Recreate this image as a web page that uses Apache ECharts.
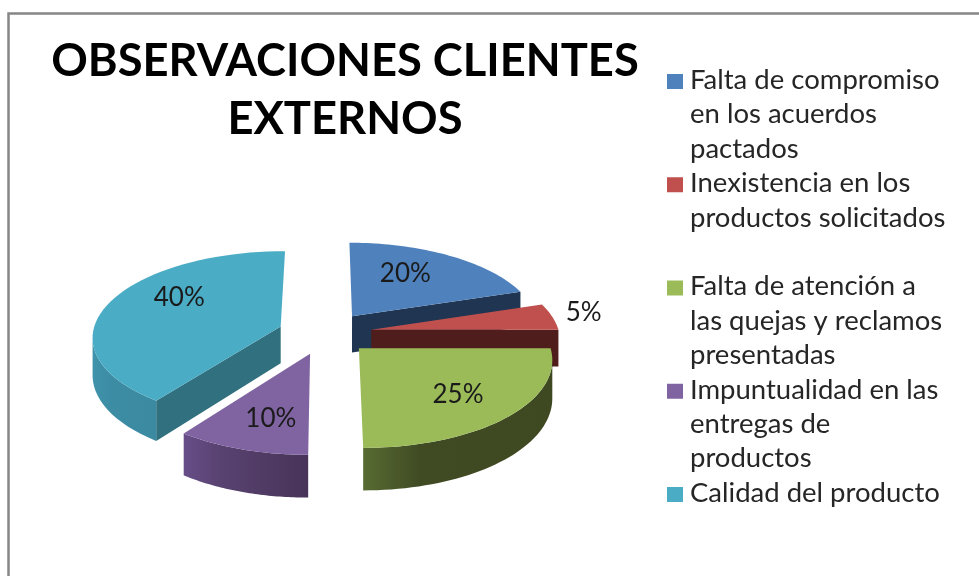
<!DOCTYPE html>
<html>
<head>
<meta charset="utf-8">
<style>html,body{margin:0;padding:0;background:#fff;overflow:hidden}#c{width:979px;height:576px}</style>
<script src="https://cdn.jsdelivr.net/npm/echarts@6/dist/echarts.min.js"></script>
</head>
<body>
<div id="c"></div>
<script>
const chartTitle = 'OBSERVACIONES CLIENTES\nEXTERNOS';
const categories = [
  'Falta de compromiso en los acuerdos pactados',
  'Inexistencia en los productos solicitados',
  'Falta de atención a las quejas y reclamos presentadas',
  'Impuntualidad en las entregas de productos',
  'Calidad del producto'
];
const legendLines = [
  'Falta de compromiso\nen los acuerdos\npactados',
  'Inexistencia en los\nproductos solicitados\n ',
  'Falta de atención a\nlas quejas y reclamos\npresentadas',
  'Impuntualidad en las\nentregas de\nproductos',
  'Calidad del producto\n \n '
];
const values = [20, 5, 25, 10, 40];

// styles and layout (not data)
const topColors = ['#4F81BD', '#C0504D', '#9BBB59', '#8064A2', '#4BACC6'];
const faceColors = ['#1F3552', '#4F1E1C', '#404B24', '#4A3660', '#31707F'];
const wallStops = [
  ['#1F3552', '#1F3552', '#1F3552'], ['#4F1E1C', '#4F1E1C', '#4F1E1C'],
  ['#586B32', '#404B24', '#3E4922'], ['#674E88', '#584270', '#483459'], ['#3F93AA', '#3C8CA4', '#3B8AA2']
];
const drawOrder = [0, 4, 1, 2, 3];
const labelFraction = [0.6, 1.2, 0.6, 0.6, 0.6];
const labelNudge = [[-7, -5], [-4, -2], [12, 7], [0, 10], [2, -14]];
const cx = 325, cy = 333, rx = 188, ry = 85, persp = 0.11, explode = 0.25, depth = 37;
const FONT = 'Lato, "Open Sans", sans-serif';

const total = values.reduce((a, b) => a + b, 0);
function project(X, W) {
  const s = 1 / (1 + persp * W);
  return { x: cx + X * rx * s, y: cy - W * ry * s, d: depth * s };
}
function slicePoint(ax, aw, angle, r) {
  return project(ax + r * Math.sin(angle), aw + r * Math.cos(angle));
}
const down = p => [p.x, p.y + p.d];
const flat = p => [p.x, p.y];

function sliceChildren(i, startAngle, endAngle, value) {
  const mid = (startAngle + endAngle) / 2;
  const ax = explode * Math.sin(mid), aw = explode * Math.cos(mid);
  const apex = project(ax, aw);
  const steps = 48;
  const arc = [];
  for (let k = 0; k <= steps; k++) {
    arc.push(slicePoint(ax, aw, startAngle + (endAngle - startAngle) * k / steps, 1));
  }
  const children = [];
  const straight = (a, b) => {
    if (b.x - a.x < -10) {
      children.push({
        type: 'polygon',
        shape: { points: [flat(a), flat(b), down(b), down(a)] },
        style: { fill: faceColors[i] }
      });
    }
  };
  straight(apex, arc[0]);
  straight(arc[arc.length - 1], apex);
  // outer curved wall: only the segments that travel leftwards face the viewer
  let run = [];
  const flush = () => {
    if (run.length > 1) {
      children.push({
        type: 'polygon',
        shape: { points: run.map(flat).concat(run.slice().reverse().map(down)) },
        style: {
          fill: {
            type: 'linear', x: 0, y: 0, x2: 1, y2: 0,
            colorStops: [
              { offset: 0, color: wallStops[i][0] },
              { offset: 0.3, color: wallStops[i][1] },
              { offset: 1, color: wallStops[i][2] }
            ]
          }
        }
      });
    }
    run = [];
  };
  for (let k = 0; k < steps; k++) {
    if (arc[k + 1].x < arc[k].x) {
      if (!run.length) run.push(arc[k]);
      run.push(arc[k + 1]);
    } else flush();
  }
  flush();
  children.push({
    type: 'polygon',
    shape: { points: [flat(apex)].concat(arc.map(flat)) },
    style: { fill: topColors[i] }
  });
  const lab = slicePoint(ax, aw, mid, labelFraction[i]);
  children.push({
    type: 'text',
    style: {
      x: lab.x + labelNudge[i][0], y: lab.y + labelNudge[i][1],
      text: value + '%', fill: '#1a1a1a',
      font: '26px ' + FONT, align: 'center', verticalAlign: 'middle'
    }
  });
  return children;
}

let acc = 0;
const spans = values.map(v => {
  const a = acc / total * 2 * Math.PI;
  acc += v;
  return [a, acc / total * 2 * Math.PI];
});

const series = categories.map((name, i) => ({
  type: 'custom',
  name,
  coordinateSystem: 'none',
  z: 2 + drawOrder.indexOf(i),
  silent: true,
  animation: false,
  clip: false,
  itemStyle: { color: topColors[i] },
  data: [[values[i]]],
  renderItem: (params, api) => ({
    type: 'group',
    children: sliceChildren(i, spans[i][0], spans[i][1], api.value(0))
  })
}));

const chart = echarts.init(document.getElementById('c'), null, { renderer: 'canvas' });
chart.setOption({
  animation: false,
  backgroundColor: '#ffffff',
  title: {
    text: chartTitle,
    left: 340,
    top: 27,
    textAlign: 'center',
    textStyle: { fontFamily: FONT, fontWeight: 'bold', fontSize: 45.3, lineHeight: 58, color: '#000' }
  },
  legend: {
    orient: 'vertical',
    left: 667,
    top: 63,
    height: 600,
    itemGap: 0,
    itemWidth: 16,
    itemHeight: 103,
    icon: 'path://M0 0L16 0M0 11H16V26H0ZM0 103L16 103',
    selectedMode: false,
    padding: 0,
    data: categories,
    formatter: name => legendLines[categories.indexOf(name)],
    textStyle: { fontFamily: FONT, fontSize: 27.5, lineHeight: 34.4, color: '#262626', padding: [0, 0, 0, 2] }
  },
  graphic: [{
    type: 'rect',
    silent: true,
    z: 0,
    shape: { x: 8.5, y: 13.5, width: 1200, height: 900 },
    style: { fill: 'none', stroke: '#868686', lineWidth: 2.5 }
  }],
  series
});
</script>
</body>
</html>
